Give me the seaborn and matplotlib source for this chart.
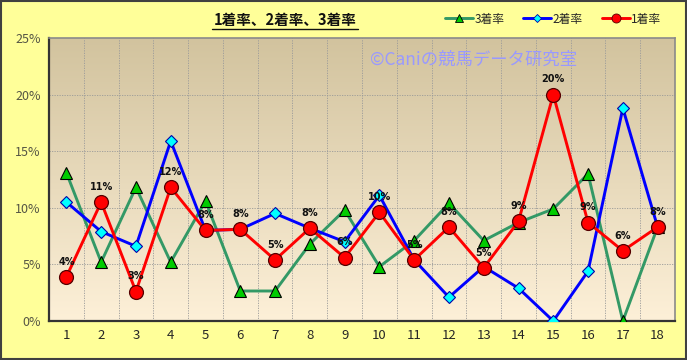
import numpy as np
import pandas as pd
import seaborn as sns
import matplotlib.pyplot as plt
from matplotlib.lines import Line2D
from matplotlib.patches import Rectangle

sns.set_style('white')
plt.rcParams['font.family'] = ['Noto Sans CJK JP', 'DejaVu Sans']

races = list(range(1, 18 + 1))
win_rate = [3.9, 10.5, 2.6, 11.8, 8.0, 8.1, 5.4, 8.2, 5.6, 9.6, 5.4, 8.3, 4.7, 8.8, 20.0, 8.7, 6.2, 8.3]
second_rate = [10.5, 7.9, 6.6, 15.9, 8.0, 8.1, 9.5, 8.2, 7.0, 11.1, 5.4, 2.1, 4.8, 2.9, 0.0, 4.4, 18.8, 8.3]
third_rate = [13.1, 5.2, 11.8, 5.2, 10.6, 2.65, 2.65, 6.8, 9.8, 4.8, 7.1, 10.4, 7.1, 8.7, 9.9, 13.0, 0.0, 8.3]

df = pd.DataFrame({'race': races, '1着率': win_rate, '2着率': second_rate, '3着率': third_rate})

fig = plt.figure(figsize=(6.87, 3.6), dpi=100, facecolor='#FFFF99')
ax = fig.add_axes([49 / 687, 1 - 321 / 360, (675 - 49) / 687, (321 - 38) / 360])

# gradient background of plot area (tan at top, cream at bottom)
grad = np.linspace(0, 1, 256).reshape(-1, 1)
top = np.array([0xD2, 0xC3, 0x9E]) / 255
bot = np.array([0xFD, 0xF0, 0xD8]) / 255
img = top + (bot - top) * grad[..., None]
ax.imshow(img, extent=[0.5, 18.5, 0, 25], aspect='auto', zorder=0)

# grid
for y in [5, 10, 15, 20]:
    ax.axhline(y, color='#999999', lw=0.6, ls=(0, (1.5, 1.5)), zorder=1)
for x in np.arange(1.5, 18.5, 1):
    ax.axvline(x, color='#999999', lw=0.6, ls=(0, (1.5, 1.5)), zorder=1)

sns.lineplot(data=df, x='race', y='3着率', ax=ax, color='#339966', lw=2.1,
             marker='^', markersize=9, markerfacecolor='#00CC00', markeredgecolor='#000000',
             markeredgewidth=0.8, zorder=3)
sns.lineplot(data=df, x='race', y='2着率', ax=ax, color='#0000FF', lw=2.1,
             marker='D', markersize=6, markerfacecolor='#00FFFF', markeredgecolor='#0000AA',
             markeredgewidth=0.8, zorder=4)
sns.lineplot(data=df, x='race', y='1着率', ax=ax, color='#FF0000', lw=2.1,
             marker='o', markersize=10, markerfacecolor='#FF0000', markeredgecolor='#550000',
             markeredgewidth=0.9, zorder=5)

for x, v in zip(races, win_rate):
    ax.annotate(f'{int(v + 0.5)}%', (x, v), xytext=(0, 11), textcoords='offset points',
                ha='center', va='center', fontsize=7, fontweight='bold',
                family='DejaVu Sans', color='#111111', zorder=6)

ax.set_xlim(0.5, 18.5)
ax.set_ylim(0, 25)
ax.set_xticks(races)
ax.set_xticklabels([str(r) for r in races], fontsize=9.5)
ax.set_yticks([0, 5, 10, 15, 20, 25])
ax.set_yticklabels([f'{t}%' for t in [0, 5, 10, 15, 20, 25]], fontsize=9, color='#555544')
ax.tick_params(axis='both', length=0, pad=6)
ax.set_xlabel('')
ax.set_ylabel('')
for s in ['left', 'bottom']:
    ax.spines[s].set_color('#333333')
    ax.spines[s].set_linewidth(1.6)
for s in ['top', 'right']:
    ax.spines[s].set_color('#8a8a8a')
    ax.spines[s].set_linewidth(1.2)

ax.text(0.512, 0.922, '©Caniの競馬データ研究室', transform=ax.transAxes,
        fontsize=12.5, color='#9999FF', ha='left', va='center', zorder=2)

# title with underline
fig.text(285 / 687, 1 - 20 / 360, '1着率、2着率、3着率', ha='center', va='center',
         fontsize=10.5, fontweight='bold', color='#111111')
fig.add_artist(Line2D([212 / 687, 358 / 687], [1 - 28.5 / 360, 1 - 28.5 / 360],
                      color='#111111', lw=1.0))

handles = [
    Line2D([], [], color='#339966', lw=2.1, marker='^', markersize=6,
           markerfacecolor='#00CC00', markeredgecolor='#000000', markeredgewidth=0.6),
    Line2D([], [], color='#0000FF', lw=2.1, marker='D', markersize=4.5,
           markerfacecolor='#00FFFF', markeredgecolor='#0000AA', markeredgewidth=0.6),
    Line2D([], [], color='#FF0000', lw=2.1, marker='o', markersize=6.5,
           markerfacecolor='#FF0000', markeredgecolor='#550000', markeredgewidth=0.6),
]
fig.legend(handles, ['3着率', '2着率', '1着率'], loc='center', ncol=3,
           bbox_to_anchor=(553 / 687, 1 - 19 / 360), frameon=False, fontsize=8.5,
           handlelength=2.4, handletextpad=0.1, columnspacing=1.6)

fig.add_artist(Rectangle((0.001, 0.002), 0.997, 0.995, transform=fig.transFigure,
                         fill=False, edgecolor='#404040', lw=1.5))

fig.savefig('out.png', dpi=100, facecolor=fig.get_facecolor())
